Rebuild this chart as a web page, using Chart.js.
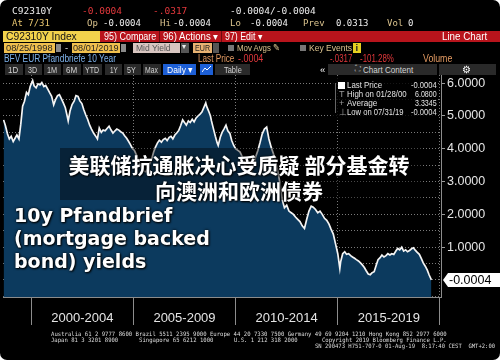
<!DOCTYPE html>
<html>
<head>
<meta charset="utf-8">
<title>C92310Y Index</title>
<script src="https://cdn.jsdelivr.net/npm/chart.js@4.4.1/dist/chart.umd.min.js"></script>
<style>
  html, body { margin: 0; padding: 0; background: #fff; }
  #term { position: relative; width: 500px; height: 360px; background: #000; overflow: hidden;
          border-radius: 7px; font-family: "Liberation Sans", Arial, sans-serif; color: #ddd; }
  #term canvas { position: absolute; left: 0; top: 0; }
  .t { position: absolute; white-space: pre; line-height: 1; transform-origin: 0 50%; }
  .m { font-family: "DejaVu Sans Mono", monospace; }
  .b { position: absolute; }
  .tan { color: #dcc48e; }
  .red { color: #e3383c; }
  .wh { color: #ececec; }
  .btn { position: absolute; top: 64px; height: 11px; background: #2a2a2a; }
  .bt { top: 65.3px; font-size: 9.5px; color: #d2d2d2; }
  .r3 { top: 31.5px; font-size: 10px; color: #fff; }
  .r4 { top: 43.3px; font-size: 9.5px; }
  .r5 { top: 54px; font-size: 10px; }
  .lg { font-size: 9px; color: #e2e2e2; }
  .ft { font-size: 6px; color: #dedede; }
  .cn { position: absolute; left: 39px; width: 400px; text-align: center; line-height: 1;
        font-family: "Noto Sans CJK SC", sans-serif; font-weight: 700; font-size: 21px; color: #fff;
        text-shadow: 0 0 3px #000, 1px 1px 2px #000; white-space: pre; }
  .en { position: absolute; left: 14px; line-height: 1; white-space: pre;
        font-family: "DejaVu Sans", sans-serif; font-weight: 700; font-size: 19px; color: #fff;
        text-shadow: 0 0 3px #000, 1px 1px 2px #000; }
</style>
</head>
<body>
<div id="term">
  <canvas id="c" width="500" height="360"></canvas>

  <!-- quote lines -->
  <span class="t m wh" style="left:12px;top:6px;font-size:9.5px">C92310Y</span>
  <span class="t m red" style="left:82px;top:6px;font-size:9.5px">-0.0004</span>
  <span class="t m red" style="left:153px;top:6px;font-size:9.5px">-.0317</span>
  <span class="t m wh" style="left:230px;top:6px;font-size:9.5px">-0.0004/-0.0004</span>

  <span class="t m" style="left:12px;top:18.5px;font-size:9px;color:#e6c46e">At 7/31</span>
  <span class="t m tan" style="left:87px;top:18.5px;font-size:9px">Op</span>
  <span class="t m wh" style="left:103px;top:18.5px;font-size:9px">-0.0004</span>
  <span class="t m tan" style="left:160px;top:18.5px;font-size:9px">Hi</span>
  <span class="t m wh" style="left:173px;top:18.5px;font-size:9px">-0.0004</span>
  <span class="t m tan" style="left:230px;top:18.5px;font-size:9px">Lo</span>
  <span class="t m wh" style="left:250px;top:18.5px;font-size:9px">-0.0004</span>
  <span class="t m tan" style="left:303px;top:18.5px;font-size:9px">Prev</span>
  <span class="t m wh" style="left:336px;top:18.5px;font-size:9px">0.0313</span>
  <span class="t m tan" style="left:387px;top:18.5px;font-size:9px">Vol</span>
  <span class="t m wh" style="left:408px;top:18.5px;font-size:9px">0</span>

  <!-- red command bar -->
  <div class="b" style="left:3px;top:31px;width:97px;height:11px;background:#f2d24c"></div>
  <span class="t r3" style="left:6px;color:#141414" data-w="71">C92310Y Index</span>
  <div class="b" style="left:100px;top:31px;width:400px;height:11px;background:#b8141c"></div>
  <div class="b" style="left:159px;top:31px;width:1px;height:11px;background:#6e0a0f"></div>
  <div class="b" style="left:221px;top:31px;width:1px;height:11px;background:#6e0a0f"></div>
  <span class="t r3" style="left:104px" data-w="52">95) Compare</span>
  <span class="t r3" style="left:163px" data-w="55">96) Actions ▾</span>
  <span class="t r3" style="left:225px" data-w="37">97) Edit ▾</span>
  <span class="t r3" style="left:442px" data-w="45">Line Chart</span>

  <!-- date / field row -->
  <div class="b" style="left:4px;top:43px;width:51px;height:10px;background:#f0c04e"></div>
  <span class="t r4" style="left:6px;color:#1e1e1e" data-w="47">08/25/1998</span>
  <div class="b" style="left:56px;top:44px;width:5px;height:8px;background:#8a8a8a"></div>
  <span class="t r4 wh" style="left:65px">-</span>
  <div class="b" style="left:72px;top:43px;width:48px;height:10px;background:#f0c04e"></div>
  <span class="t r4" style="left:73px;color:#1e1e1e" data-w="46">08/01/2019</span>
  <div class="b" style="left:121px;top:44px;width:5px;height:8px;background:#8a8a8a"></div>
  <div class="b" style="left:133px;top:43px;width:47px;height:10px;background:#d8c5c0"></div>
  <span class="t r4" style="left:136px;color:#555" data-w="35">Mid Yield</span>
  <div class="b" style="left:181px;top:43px;width:8px;height:10px;background:#555"></div>
  <span class="t r4 wh" style="left:182px;font-size:8px">▾</span>
  <div class="b" style="left:193px;top:43px;width:19px;height:10px;background:#e8b272"></div>
  <span class="t r4" style="left:195px;color:#1e1e1e" data-w="15">EUR</span>
  <div class="b" style="left:213px;top:43px;width:6px;height:10px;background:#555"></div>
  <div class="b" style="left:228px;top:45px;width:6px;height:6px;background:#777"></div>
  <span class="t r4 tan" style="left:237px" data-w="43">Mov Avgs ✎</span>
  <div class="b" style="left:300px;top:45px;width:6px;height:6px;background:#777"></div>
  <span class="t r4 tan" style="left:309px" data-w="43">Key Events</span>
  <div class="b" style="left:353px;top:43px;width:8px;height:10px;background:#e6d020"></div>
  <span class="t r4" style="left:355.5px;color:#222;font-weight:700">i</span>

  <!-- title row -->
  <span class="t r5" style="left:4px;color:#7eb2ea" data-w="112">BFV EUR Pfandbriefe 10 Year</span>
  <span class="t r5" style="left:198px;color:#e39a62" data-w="36">Last Price</span>
  <span class="t r5 red" style="left:238px" data-w="25">-.0004</span>
  <span class="t r5 red" style="left:330px" data-w="22">-.0317</span>
  <span class="t r5 red" style="left:360px" data-w="34">-101.28%</span>
  <span class="t r5" style="left:423px;color:#e39a62" data-w="29">Volume</span>

  <!-- period buttons -->
  <div class="btn" style="left:5px;width:18px"></div>
  <div class="btn" style="left:25px;width:17px"></div>
  <div class="btn" style="left:44px;width:17px"></div>
  <div class="btn" style="left:63px;width:18px"></div>
  <div class="btn" style="left:83px;width:19px"></div>
  <div class="btn" style="left:105px;width:17px"></div>
  <div class="btn" style="left:124px;width:17px"></div>
  <div class="btn" style="left:143px;width:18px"></div>
  <span class="t bt" style="left:8px" data-w="10">1D</span>
  <span class="t bt" style="left:28px" data-w="9">3D</span>
  <span class="t bt" style="left:47px" data-w="10">1M</span>
  <span class="t bt" style="left:66px" data-w="11">6M</span>
  <span class="t bt" style="left:85px" data-w="14">YTD</span>
  <span class="t bt" style="left:110px" data-w="8">1Y</span>
  <span class="t bt" style="left:127px" data-w="9">5Y</span>
  <span class="t bt" style="left:145px" data-w="13">Max</span>
  <div class="btn" style="left:163px;width:33px;background:#1d5fd6"></div>
  <span class="t bt" style="left:167px;color:#fff" data-w="26">Daily ▾</span>
  <div class="btn" style="left:200px;width:13px;background:#1d5fd6"></div>
  <svg class="b" style="left:202px;top:66px" width="9" height="7"><polyline points="0,6 3,2 5,4 9,0" fill="none" stroke="#fff" stroke-width="1"/></svg>
  <div class="btn" style="left:215px;width:35px"></div>
  <span class="t bt" style="left:224px" data-w="18">Table</span>
  <span class="t bt" style="left:320px;color:#fff">«</span>
  <div class="btn" style="left:328px;width:109px"></div>
  <span class="t bt" style="left:355px;color:#bbb;font-size:8px">⛶</span>
  <span class="t bt" style="left:363px" data-w="50">Chart Content</span>
  <div class="btn" style="left:439px;width:57px"></div>
  <span class="t bt" style="left:462px;color:#fff">⚙</span>

  <!-- legend panel -->
  <div class="b" style="left:332px;top:77px;width:106px;height:41px;background:rgba(0,0,0,0.82)"></div>
  <div class="b" style="left:335px;top:83px;width:1px;height:30px;background:#666"></div>
  <div class="b" style="left:338px;top:81.5px;width:7px;height:7px;background:#fff"></div>
  <span class="t lg" style="left:347px;top:80.5px" data-w="35">Last Price</span>
  <span class="t lg" style="left:411px;top:80.5px" data-w="26">-0.0004</span>
  <span class="t lg" style="left:339px;top:89.5px;color:#999">T</span>
  <span class="t lg" style="left:347px;top:89.5px" data-w="60">High on 01/28/00</span>
  <span class="t lg" style="left:415px;top:89.5px" data-w="22">6.0800</span>
  <span class="t lg" style="left:339px;top:98.5px;color:#999">+</span>
  <span class="t lg" style="left:347px;top:98.5px" data-w="30">Average</span>
  <span class="t lg" style="left:415px;top:98.5px" data-w="22">3.3345</span>
  <span class="t lg" style="left:339px;top:107.5px;color:#999">⊥</span>
  <span class="t lg" style="left:347px;top:107.5px" data-w="57">Low on 07/31/19</span>
  <span class="t lg" style="left:411px;top:107.5px" data-w="26">-0.0004</span>

  <!-- news overlay -->
  <div class="b" style="left:60px;top:148px;width:362px;height:52px;background:rgba(0,0,0,0.4)"></div>
  <div class="cn" style="top:153.5px">美联储抗通胀决心受质疑 部分基金转</div>
  <div class="cn" style="top:180px">向澳洲和欧洲债券</div>
  <div class="en" style="top:206px">10y Pfandbrief</div>
  <div class="en" style="top:229px">(mortgage backed</div>
  <div class="en" style="top:252px">bond) yields</div>

  <!-- footer -->
  <span class="t m ft" style="left:51px;top:330.5px" data-w="396">Australia 61 2 9777 8600 Brazil 5511 2395 9000 Europe 44 20 7330 7500 Germany 49 69 9204 1210 Hong Kong 852 2977 6000</span>
  <span class="t m ft" style="left:51px;top:336.5px" data-w="67">Japan 81 3 3201 8900</span>
  <span class="t m ft" style="left:139px;top:336.5px" data-w="74">Singapore 65 6212 1000</span>
  <span class="t m ft" style="left:234px;top:336.5px" data-w="64">U.S. 1 212 318 2000</span>
  <span class="t m ft" style="left:322px;top:336.5px" data-w="125">Copyright 2019 Bloomberg Finance L.P.</span>
  <span class="t m ft" style="left:315px;top:343px" data-w="180">SN 290473 H751-707-0 01-Aug-19  8:17:40 CEST  GMT+2:00</span>
</div>

<script>
// BFV EUR Pfandbriefe 10 Year, mid yield (%)
const dates = [
  1998.65, 1998.74, 1998.84, 1998.93, 1999.02, 1999.12, 1999.21, 1999.30, 1999.40, 1999.49, 1999.58, 1999.67, 1999.77, 1999.86, 1999.95,
  2000.07, 2000.14, 2000.24, 2000.33, 2000.43, 2000.52, 2000.62, 2000.71, 2000.81, 2000.90, 2001.00, 2001.10, 2001.19, 2001.29, 2001.38, 2001.48, 2001.57, 2001.67, 2001.76, 2001.81, 2001.90,
  2002.00, 2002.10, 2002.19, 2002.29, 2002.38, 2002.48, 2002.57, 2002.67, 2002.76, 2002.86, 2002.95, 2003.05, 2003.14, 2003.24, 2003.33, 2003.43, 2003.52, 2003.62, 2003.71, 2003.81, 2003.90,
  2004.00, 2004.10, 2004.19, 2004.29, 2004.38, 2004.48, 2004.57, 2004.67, 2004.76, 2004.86, 2004.95,
  2005.05, 2005.14, 2005.24, 2005.33, 2005.42, 2005.52, 2005.61, 2005.71, 2005.80, 2005.90, 2005.99, 2006.08, 2006.18, 2006.27, 2006.37, 2006.46, 2006.56, 2006.65, 2006.75, 2006.84, 2006.93,
  2007.03, 2007.12, 2007.22, 2007.31, 2007.41, 2007.50, 2007.59, 2007.69, 2007.78, 2007.88, 2007.97, 2008.07, 2008.16, 2008.25, 2008.35, 2008.44, 2008.54, 2008.58, 2008.68, 2008.77, 2008.82, 2008.92,
  2009.01, 2009.10, 2009.15, 2009.25, 2009.34, 2009.43, 2009.53, 2009.62, 2009.72, 2009.81, 2009.91,
  2010.00, 2010.11, 2010.22, 2010.33, 2010.43, 2010.54, 2010.65, 2010.76, 2010.87, 2010.98, 2011.09, 2011.20, 2011.30, 2011.41, 2011.52, 2011.63, 2011.74, 2011.85, 2011.96,
  2012.07, 2012.17, 2012.28, 2012.39, 2012.50, 2012.61, 2012.72, 2012.83, 2012.93, 2013.04, 2013.15, 2013.26, 2013.37, 2013.48, 2013.59, 2013.70, 2013.80, 2013.91,
  2014.02, 2014.13, 2014.24, 2014.35, 2014.46, 2014.57, 2014.67, 2014.78, 2014.89,
  2015.00, 2015.10, 2015.14, 2015.24, 2015.34, 2015.43, 2015.53, 2015.63, 2015.72, 2015.82, 2015.91, 2016.01, 2016.11, 2016.20, 2016.30, 2016.39, 2016.49, 2016.59, 2016.68, 2016.78, 2016.88, 2016.97,
  2017.07, 2017.16, 2017.26, 2017.36, 2017.45, 2017.55, 2017.64, 2017.74, 2017.84, 2017.93, 2018.03, 2018.13, 2018.22, 2018.32, 2018.41, 2018.51, 2018.61, 2018.70, 2018.80, 2018.89, 2018.99,
  2019.09, 2019.18, 2019.28, 2019.38, 2019.47, 2019.58
];
const yields = [
  4.88, 4.70, 4.45, 4.30, 4.38, 4.22, 4.32, 4.42, 4.30, 4.75, 5.30, 5.45, 5.72, 5.65, 5.90,
  6.08, 5.92, 5.86, 5.98, 5.95, 6.02, 5.90, 5.93, 5.82, 5.71, 5.60, 5.34, 5.50, 5.62, 5.65, 5.52, 5.40, 5.25, 5.00, 4.85, 5.15,
  5.35, 5.45, 5.62, 5.60, 5.46, 5.38, 5.20, 5.03, 4.90, 4.72, 4.60, 4.48, 4.40, 4.30, 4.63, 4.50, 4.57, 4.55, 4.62, 4.69, 4.58,
  4.48, 4.55, 4.60, 4.57, 4.52, 4.48, 4.40, 4.32, 4.23, 4.12, 4.01,
  3.95, 3.82, 3.65, 3.50, 3.38, 3.32, 3.30, 3.40, 3.55, 3.70, 3.90, 4.05, 4.18, 4.26, 4.20, 4.28, 4.32, 4.25, 4.35, 4.38, 4.30,
  4.42, 4.48, 4.56, 4.70, 4.88, 4.80, 4.72, 4.85, 4.80, 4.90, 4.82, 4.94, 5.00, 5.05, 5.12, 5.25, 5.40, 5.30, 5.15, 5.00, 4.85, 4.60,
  4.38, 4.18, 4.10, 4.35, 4.50, 4.60, 4.72, 4.55, 4.47, 4.25, 4.10,
  4.00, 3.95, 3.90, 3.75, 3.55, 3.35, 3.25, 3.30, 3.50, 3.75, 3.95, 4.20, 4.45, 4.60, 4.66, 4.30, 4.05, 3.85, 3.60,
  3.30, 2.95, 2.45, 2.20, 2.28, 2.10, 2.05, 2.00, 1.92, 1.85, 1.78, 1.65, 1.57, 1.85, 2.10, 2.25, 2.22, 2.15,
  2.05, 2.10, 2.00, 1.88, 1.82, 1.70, 1.55, 1.40, 1.10,
  0.80, 0.35, 0.55, 0.80, 0.86, 0.78, 0.80, 0.74, 0.70, 0.66, 0.62, 0.58, 0.52, 0.46, 0.38, 0.28, 0.18, 0.16, 0.22, 0.25, 0.45, 0.62,
  0.68, 0.76, 0.70, 0.74, 0.80, 0.76, 0.80, 0.78, 0.88, 0.96, 0.92, 1.00, 0.88, 0.92, 0.86, 0.90, 0.95, 0.98, 0.90, 0.84, 0.78,
  0.65, 0.52, 0.42, 0.30, 0.15, -0.0004
];

// axis ticks: period boundaries carry the separators, mid points carry the labels
const xTicks = [2000, 2002.5, 2005, 2007.5, 2010, 2012.5, 2015, 2017.5, 2020];
const xTickLabels = ['', '2000-2004', '', '2005-2009', '', '2010-2014', '', '2015-2019', ''];
const yTicks = [-0.5, 0, 0.5, 1, 1.5, 2, 2.5, 3, 3.5, 4, 4.5, 5, 5.5, 6];
const yTickLabels = ['', '', '', '1.0000', '', '2.0000', '', '3.0000', '', '4.0000', '', '5.0000', '', '6.0000'];

// squeeze the narrow terminal font into the widths seen on screen
document.querySelectorAll('[data-w]').forEach(el => {
  el.style.transform = `scaleX(${el.dataset.w / el.offsetWidth})`;
});

// white "last price" tag on the right axis
const lastTag = {
  id: 'lastTag',
  afterDraw(chart) {
    const ctx = chart.ctx;
    const last = yields[yields.length - 1];
    const y = Math.round(chart.scales.y.getPixelForValue(last));
    const x = chart.chartArea.right + 2;
    ctx.save();
    ctx.fillStyle = '#fff';
    ctx.beginPath();
    ctx.moveTo(x, y);
    ctx.lineTo(x + 5, y - 7);
    ctx.lineTo(500, y - 7);
    ctx.lineTo(500, y + 7);
    ctx.lineTo(x + 5, y + 7);
    ctx.closePath();
    ctx.fill();
    ctx.fillStyle = '#000';
    ctx.font = '12.5px "Liberation Sans"';
    ctx.textBaseline = 'middle';
    ctx.fillText(last.toFixed(4), x + 6, y + 1);
    ctx.restore();
  }
};

Chart.defaults.font.family = '"Liberation Sans", Arial, sans-serif';

new Chart(document.getElementById('c'), {
  type: 'line',
  data: {
    datasets: [{
      data: dates.map((d, i) => ({ x: d, y: yields[i] })),
      borderColor: '#f4f4f4',
      borderWidth: 1.7,
      backgroundColor: '#0c3a5e',
      fill: 'start',
      pointRadius: 0,
      tension: 0
    }]
  },
  options: {
    responsive: false,
    animation: false,
    layout: { padding: { left: 3, top: 75, right: 0, bottom: 0 } },
    plugins: { legend: { display: false }, tooltip: { enabled: false } },
    scales: {
      x: {
        type: 'linear',
        min: 1998.62,
        max: 2020.05,
        afterBuildTicks: s => { s.ticks = xTicks.map(v => ({ value: v })); },
        afterFit: s => { s.height = 63; },
        ticks: {
          autoSkip: false, maxRotation: 0, padding: -14,
          color: '#e4e4e4', font: { size: 13 },
          callback: (v, i) => xTickLabels[i]
        },
        grid: {
          color: c => xTickLabels[c.index] ? 'transparent' : '#7a7a7a',
          tickColor: c => xTickLabels[c.index] ? 'transparent' : '#8c8c8c',
          tickLength: 28,
          tickBorderDash: [1, 0]
        },
        border: { color: '#8c8c8c', dash: [1, 2] }
      },
      y: {
        position: 'right',
        min: -0.52,
        max: 6.25,
        afterBuildTicks: s => { s.ticks = yTicks.map(v => ({ value: v })); },
        afterFit: s => { s.width = 59; },
        ticks: {
          autoSkip: false, padding: 2, color: '#e4e4e4', font: { size: 12.5 },
          callback: (v, i) => yTickLabels[i]
        },
        grid: {
          color: '#7a7a7a',
          tickColor: c => yTickLabels[c.index] ? '#9a9a9a' : 'transparent',
          tickLength: 4,
          tickBorderDash: [1, 0]
        },
        border: { color: '#8c8c8c', dash: [1, 2] }
      }
    }
  },
  plugins: [lastTag]
});
</script>
</body>
</html>
